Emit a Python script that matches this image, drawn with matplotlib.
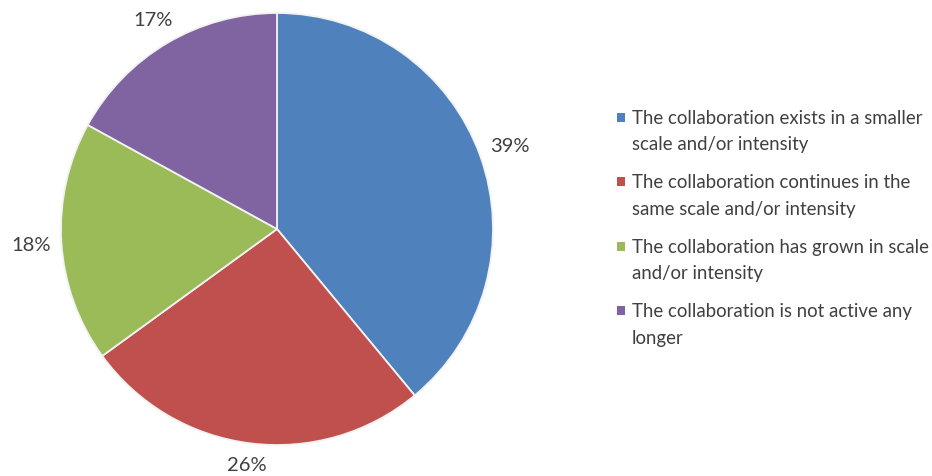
import numpy as np
import matplotlib.pyplot as plt
from matplotlib.patches import Rectangle

# survey shares, starting at 12 o'clock and going clockwise
labels = [
    "The collaboration exists in a smaller\nscale and/or intensity",
    "The collaboration continues in the\nsame scale and/or intensity",
    "The collaboration has grown in scale\nand/or intensity",
    "The collaboration is not active any\nlonger",
]
shares = [39, 26, 18, 17]
colors = ["#4f81bd", "#c0504d", "#9bbb59", "#8064a2"]

plt.rcParams["font.family"] = ["Lato", "DejaVu Sans"]
text_color = "#404040"

fig = plt.figure(figsize=(9.32, 4.77), dpi=100)
ax = fig.add_axes([61 / 932, 31 / 477, 432 / 932, 432 / 477])
wedges, _, pcts = ax.pie(shares, colors=colors, startangle=90, counterclock=False,
                         autopct="%d%%", radius=1,
                         wedgeprops=dict(edgecolor="#f2f2f2", linewidth=1.3),
                         textprops=dict(color=text_color, fontsize=14.5))
ax.set_xlim(-1, 1)
ax.set_ylim(-1, 1)
ax.set_aspect("equal")
ax.axis("off")

# put the percentages just outside the rim, box edge a fixed gap away
R = 216.0
gap, hw, hh = 10.0, 20.0, 9.0
for w, t in zip(wedges, pcts):
    a = np.deg2rad((w.theta1 + w.theta2) / 2)
    c, s = np.cos(a), np.sin(a)
    d = 1 + (gap + abs(c) * hw + abs(s) * hh) / R
    t.set_position((d * c, d * s))
    t.set_ha("center")
    t.set_va("center")

# legend on the right: square marker next to the first line of each entry
y0 = 1 - 118 / 477
step = 64.5 / 477
for i, (lab, c) in enumerate(zip(labels, colors)):
    y = y0 - i * step
    fig.patches.append(Rectangle((617 / 932, y - 4.5 / 477), 8 / 932, 9 / 477,
                                 transform=fig.transFigure, facecolor=c,
                                 edgecolor="none"))
    fig.text(632 / 932, y + 8 / 477, lab, color=text_color, fontsize=13.4,
             va="top", ha="left", linespacing=1.65)

fig.savefig("out.png", dpi=100)
